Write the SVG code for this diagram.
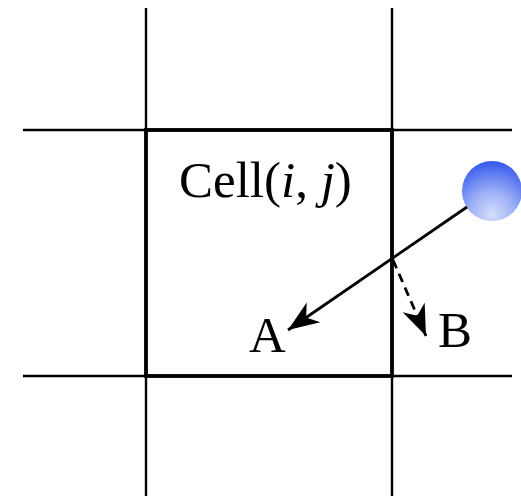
<svg xmlns="http://www.w3.org/2000/svg" width="521" height="496" viewBox="0 0 521 496">
<style>
.grid{stroke:#000;stroke-width:2.4;fill:none}
.cell{stroke:#000;stroke-width:3.8;fill:none}
.conn{stroke:#000;stroke-width:2.8;fill:none}
.lbl{font-family:"Liberation Serif","Times New Roman",serif;font-size:51px;fill:#000}
</style>
<defs>
<radialGradient id="ballGrad" cx="0.5" cy="0.85" r="0.85" fx="0.5" fy="0.9">
<stop offset="0" stop-color="#d6defa"/>
<stop offset="0.45" stop-color="#9aaef6"/>
<stop offset="1" stop-color="#3558ee"/>
</radialGradient>
<marker id="arrow" viewBox="-32 -13 34 26" refX="0" refY="0" markerWidth="34" markerHeight="26" markerUnits="userSpaceOnUse" orient="auto">
<path d="M0,0 L-31,-12 L-22,0 L-31,12 Z" fill="#000"/>
</marker>
</defs>
<g id="grid">
<line class="grid" x1="146" y1="8" x2="146" y2="496"/>
<line class="grid" x1="392" y1="8" x2="392" y2="496"/>
<line class="grid" x1="23" y1="130" x2="512" y2="130"/>
<line class="grid" x1="23" y1="376" x2="512" y2="376"/>
</g>
<g id="cell">
<rect class="cell" x="146" y="130" width="246" height="246"/>
<text class="lbl" x="179" y="197">Cell(<tspan font-style="italic">i</tspan>, <tspan font-style="italic">j</tspan>)</text>
</g>
<g id="particle">
<circle cx="492" cy="191" r="30" fill="url(#ballGrad)"/>
</g>
<g id="A">
<text class="lbl" x="249" y="352">A</text>
</g>
<g id="B">
<text class="lbl" x="438" y="347">B</text>
</g>
<g id="connectors">
<line class="conn" x1="467" y1="207" x2="288" y2="330" marker-end="url(#arrow)"/>
<line class="conn" x1="393" y1="260" x2="426" y2="336" stroke-dasharray="9,6" marker-end="url(#arrow)"/>
</g>
</svg>
